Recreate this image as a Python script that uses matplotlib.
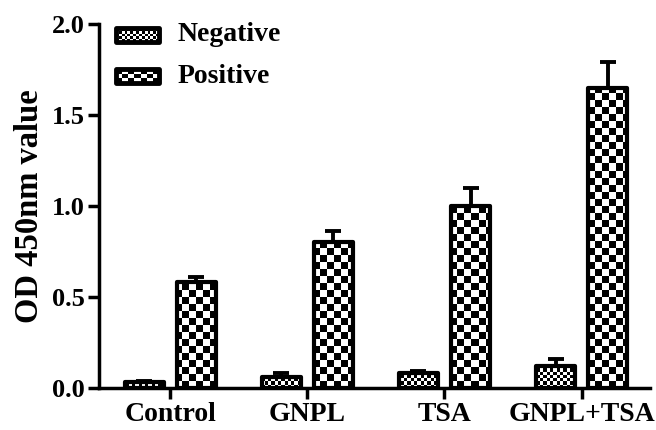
import matplotlib.pyplot as plt
import numpy as np

groups = ['Control', 'GNPL', 'TSA', 'GNPL+TSA']
negative = [0.03, 0.06, 0.08, 0.12]
negative_err = [0.01, 0.02, 0.01, 0.04]
positive = [0.58, 0.80, 1.00, 1.65]
positive_err = [0.03, 0.06, 0.10, 0.14]

plt.rcParams['font.family'] = 'Liberation Serif'
plt.rcParams['font.weight'] = 'bold'


def checker(nx, ny):
    yy, xx = np.mgrid[0:ny, 0:nx]
    return ((xx + yy) % 2).astype(float)


fig = plt.figure(figsize=(6.56, 4.30), dpi=100)
ax = fig.add_axes([0.151, 0.098, 0.840, 0.846])

x = np.arange(len(groups))
w = 0.285
off = 0.19
xlim = (-0.52, 3.5)
ylim = (0, 2.0)

neg_bars = ax.bar(x - off, negative, w, facecolor='none', edgecolor='black',
                  linewidth=3, joinstyle='round', zorder=3,
                  yerr=[np.zeros(4), negative_err],
                  error_kw=dict(ecolor='black', elinewidth=2.8, capsize=6, capthick=2.8))
pos_bars = ax.bar(x + off, positive, w, facecolor='none', edgecolor='black',
                  linewidth=3, joinstyle='round', zorder=3,
                  yerr=[np.zeros(4), positive_err],
                  error_kw=dict(ecolor='black', elinewidth=2.8, capsize=6, capthick=2.8))

# checkerboard fills clipped to each bar
fine = checker(170, 112)
coarse = checker(80, 52)
for bars, img in [(neg_bars, fine), (pos_bars, coarse)]:
    for b in bars:
        im = ax.imshow(img, cmap='gray', extent=(*xlim, *ylim), aspect='auto',
                       interpolation='nearest', origin='lower', zorder=2)
        im.set_clip_path(b)

# legend drawn in axes coordinates
legend_items = [('Negative', checker(15, 5), 0.970), ('Positive', checker(7, 3), 0.857)]
for label, img, yc in legend_items:
    box = plt.Rectangle((0.030, yc - 0.019), 0.078, 0.038, transform=ax.transAxes,
                        facecolor='none', edgecolor='black', linewidth=3.5,
                        joinstyle='round', zorder=4, clip_on=False)
    ax.add_patch(box)
    im = ax.imshow(img, cmap='gray', extent=(0.030, 0.108, yc - 0.019, yc + 0.019),
                   transform=ax.transAxes, aspect='auto', interpolation='nearest',
                   zorder=3)
    im.set_clip_path(box)
    ax.text(0.143, yc, label, transform=ax.transAxes, fontsize=20, fontweight='bold',
            va='center', ha='left')

ax.set_xlim(*xlim)
ax.set_ylim(*ylim)
ax.set_xticks(x)
ax.set_xticklabels(groups, fontsize=20, fontweight='bold')
ax.set_yticks([0, 0.5, 1.0, 1.5, 2.0])
ax.set_yticklabels(['0.0', '0.5', '1.0', '1.5', '2.0'], fontsize=19, fontweight='bold')
ax.set_ylabel('OD 450nm value', fontsize=23.5, fontweight='bold', labelpad=5)

for s in ['top', 'right']:
    ax.spines[s].set_visible(False)
for s in ['left', 'bottom']:
    ax.spines[s].set_linewidth(2.5)
ax.tick_params(axis='both', direction='out', length=8, width=2.5, pad=2)

plt.savefig('out.png', dpi=100)
